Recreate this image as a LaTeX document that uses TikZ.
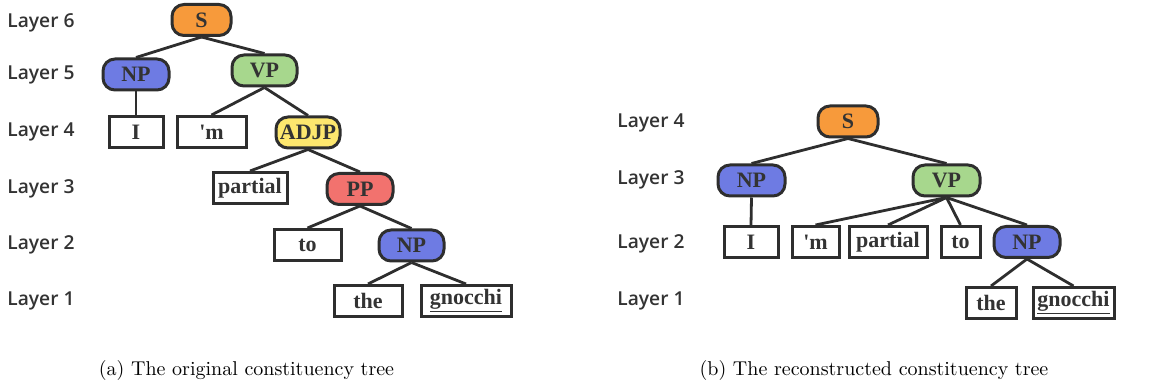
\documentclass[tikz,border=0pt]{standalone}
\usepackage{fontspec}
\newfontfamily\layerfont{Open Sans}[BoldFont={* Semibold}]
\newfontfamily\wordfont{Liberation Serif}
\definecolor{linegray}{HTML}{2E2E2E}
\definecolor{textgray}{HTML}{333333}
\definecolor{sorange}{HTML}{F79A3B}
\definecolor{npblue}{HTML}{6E7BE3}
\definecolor{vpgreen}{HTML}{A7D78D}
\definecolor{adjyellow}{HTML}{FDE76E}
\definecolor{ppred}{HTML}{F2726E}
\tikzset{
  tag/.style={draw=linegray, line width=1.5pt, rounded corners=6pt, minimum height=15.5pt,
    minimum width=#1, inner sep=0pt, text=textgray,
    font=\wordfont\bfseries\fontsize{11}{12}\selectfont},
  word/.style={tag=#1, rounded corners=0pt, fill=white},
  layer/.style={anchor=west, inner sep=0pt, text=textgray, font=\layerfont\bfseries\fontsize{9.6}{12}\selectfont},
  branch/.style={draw=linegray, line width=1.4pt},
  caption/.style={font=\fontsize{10}{12}\selectfont}
}
\begin{document}
\begin{tikzpicture}[x=0.5pt, y=-0.5pt]
    \useasboundingbox (0,0) rectangle (1167,389);

    % (a) original tree
    \node[layer] (la6) at (7,23) {Layer 6};
    \node[layer] (la5) at (7,75) {Layer 5};
    \node[layer] (la4) at (7,132) {Layer 4};
    \node[layer] (la3) at (7,189) {Layer 3};
    \node[layer] (la2) at (7,245) {Layer 2};
    \node[layer] (la1) at (7,301) {Layer 1};

    \node[tag=29.5pt, fill=sorange] (aS) at (201.5,20) {S};
    \node[tag=33pt, fill=npblue] (aNP) at (136,74.5) {NP};
    \node[tag=32.5pt, fill=vpgreen] (aVP) at (264.5,70.5) {VP};
    \node[word=27pt] (aI) at (136,132) {I};
    \node[word=34.5pt] (am) at (211.5,132) {'m};
    \node[tag=32pt, fill=adjyellow] (aADJP) at (308,132.5) {ADJP};
    \node[word=37pt] (apartial) at (250,188) {partial};
    \node[tag=33pt, fill=ppred] (aPP) at (360,189) {PP};
    \node[word=33.5pt] (ato) at (307.5,245) {to};
    \node[tag=32.5pt, fill=npblue] (aNPb) at (411.5,245.5) {NP};
    \node[word=34pt] (athe) at (368,301) {the};
    \node[word=45pt] (agnocchi) at (466,301) {\underline{gnocchi}};

    \draw[branch] (aS.south) -- (aNP.north);
    \draw[branch] (aS.south) -- (aVP.north);
    \draw[branch] (aNP.south) -- (aI.north);
    \draw[branch] (aVP.south) -- (am.north);
    \draw[branch] (aVP.south) -- (aADJP.north);
    \draw[branch] (aADJP.south) -- (apartial.north);
    \draw[branch] (aADJP.south) -- (aPP.north);
    \draw[branch] (aPP.south) -- (ato.north);
    \draw[branch] (aPP.south) -- (aNPb.north);
    \draw[branch] (aNPb.south) -- (athe.north);
    \draw[branch] (aNPb.south) -- (agnocchi.north);

    \node[caption] (capa) at (246.5,371) {(a) The original constituency tree};

    % (b) reconstructed tree
    \node[layer] (lb4) at (617,123) {Layer 4};
    \node[layer] (lb3) at (617,180) {Layer 3};
    \node[layer] (lb2) at (617,244) {Layer 2};
    \node[layer] (lb1) at (617,301) {Layer 1};

    \node[tag=30pt, fill=sorange] (bS) at (848,121.5) {S};
    \node[tag=33.5pt, fill=npblue] (bNP) at (751.5,180.5) {NP};
    \node[tag=33.5pt, fill=vpgreen] (bVP) at (946.5,180.5) {VP};
    \node[word=27pt] (bI) at (751,242) {I};
    \node[word=23.5pt] (bm) at (815.5,242) {'m};
    \node[word=39pt] (bpartial) at (888,242) {partial};
    \node[word=19.5pt] (bto) at (960.5,242) {to};
    \node[tag=33pt, fill=npblue] (bNPb) at (1027,242) {NP};
    \node[word=25pt] (bthe) at (991,303) {the};
    \node[word=40.5pt] (bgnocchi) at (1073.5,303) {\underline{gnocchi}};

    \draw[branch] (bS.south) -- (bNP.north);
    \draw[branch] (bS.south) -- (bVP.north);
    \draw[branch] (bNP.south) -- (bI.north);
    \draw[branch] (bVP.south) -- (bm.north);
    \draw[branch] (bVP.south) -- (bpartial.north);
    \draw[branch] (bVP.south) -- (bto.north);
    \draw[branch] (bVP.south) -- (bNPb.north);
    \draw[branch] (bNPb.south) -- (bthe.north);
    \draw[branch] (bNPb.south) -- (bgnocchi.north);

    \node[caption] (capb) at (874,371) {(b) The reconstructed constituency tree};
\end{tikzpicture}
\end{document}
